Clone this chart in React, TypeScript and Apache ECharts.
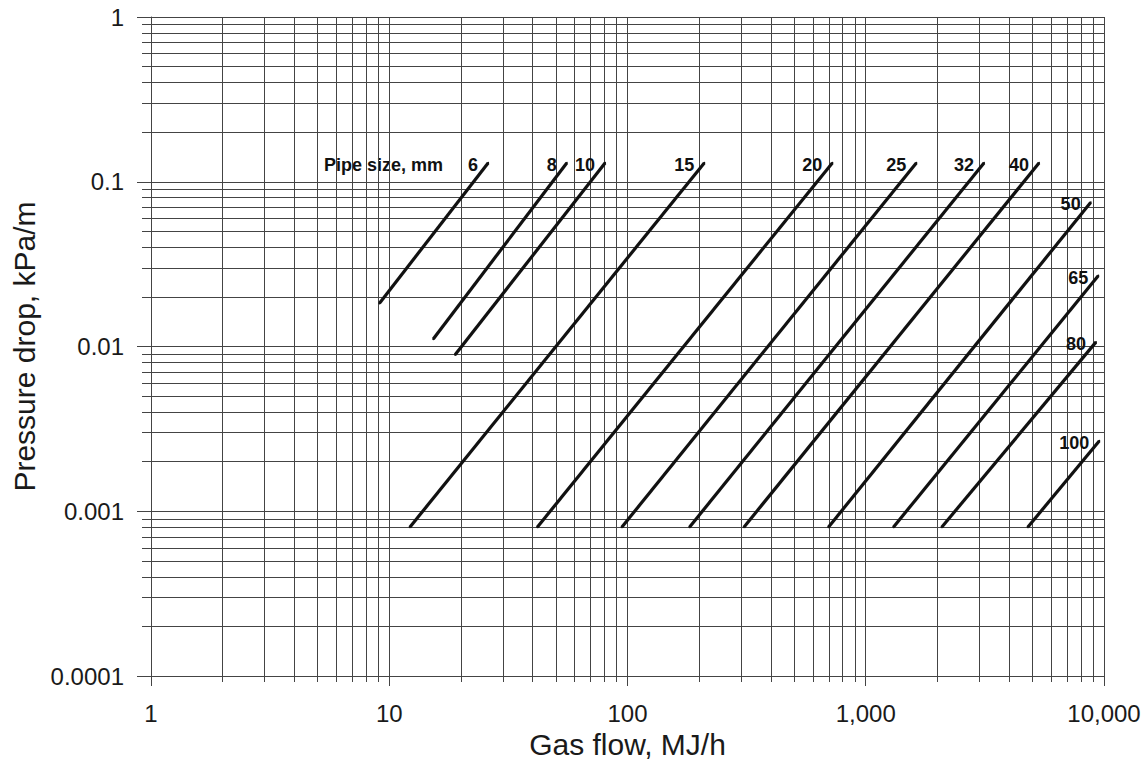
import React, { useEffect, useRef } from 'react';
import * as echarts from 'echarts';

// Pipe sizes (mm) and the end points of each pressure-drop line
const pipeSizes = ['6', '8', '10', '15', '20', '25', '32', '40', '50', '65', '80', '100'];
const flowStart = [9.1, 15.3, 18.9, 12.2, 41.8, 94.6, 182, 308, 697, 1306, 2083, 4785];
const dropStart = [0.0183, 0.0111, 0.0089, 0.0008, 0.0008, 0.0008, 0.0008, 0.0008, 0.0008, 0.0008, 0.0008, 0.0008];
const flowEnd = [26, 55.6, 80.5, 210, 724, 1630, 3135, 5335, 8790, 9460, 9250, 9550];
const dropEnd = [0.13, 0.13, 0.13, 0.13, 0.13, 0.13, 0.13, 0.13, 0.0749, 0.0269, 0.01063, 0.00267];

const xTickLabels = ['1', '10', '100', '1,000', '10,000'];
const yTickLabels = ['0.0001', '0.001', '0.01', '0.1', '1'];

const FONT = "'Liberation Sans', Arial, Helvetica, sans-serif";
const GRID = '#444444';
const INK = '#111111';

export default function App() {
  const ref = useRef<HTMLDivElement>(null);

  useEffect(() => {
    const chart = echarts.init(ref.current as HTMLDivElement, null, { renderer: 'svg' });

    const gridLine = { color: GRID, width: 1 };

    const series = pipeSizes.map((size, i) => ({
      type: 'line',
      name: size,
      silent: true,
      symbol: 'circle',
      symbolSize: 2,
      showSymbol: true,
      showAllSymbol: true,
      itemStyle: { color: INK },
      lineStyle: { color: INK, width: 3.2 },
      label: { show: false },
      data: [
        { value: [flowStart[i], dropStart[i]] },
        {
          value: [flowEnd[i], dropEnd[i]],
          label: {
            show: true,
            formatter: size,
            position: 'left',
            distance: 9,
            offset: [0, 2],
            fontFamily: FONT,
            fontWeight: 'bold',
            fontSize: 18,
            color: INK,
          },
        },
      ],
    }));

    chart.setOption({
      animation: false,
      backgroundColor: '#ffffff',
      grid: {
        left: 151,
        right: 41,
        top: 17,
        bottom: 87,
        containLabel: false,
        outerBoundsMode: 'none',
      },
      xAxis: {
        type: 'log',
        logBase: 10,
        min: 1,
        max: 10000,
        axisLine: { show: true, onZero: false, lineStyle: gridLine },
        axisTick: { show: true, length: 10, lineStyle: gridLine },
        minorTick: { show: true, splitNumber: 9, length: 6, lineStyle: gridLine },
        splitLine: { show: true, lineStyle: gridLine },
        minorSplitLine: { show: true, lineStyle: gridLine },
        axisLabel: {
          formatter: (v: number) => xTickLabels[Math.round(Math.log10(v))] ?? '',
          margin: 25,
          fontSize: 24,
          color: '#1a1a1a',
          fontFamily: FONT,
        },
        name: 'Gas flow, MJ/h',
        nameLocation: 'middle',
        nameGap: 53,
        nameTextStyle: { fontSize: 30, color: '#1a1a1a', fontFamily: FONT },
      },
      yAxis: {
        type: 'log',
        logBase: 10,
        min: 0.0001,
        max: 1,
        axisLine: { show: true, onZero: false, lineStyle: gridLine },
        axisTick: { show: true, length: 14, lineStyle: gridLine },
        minorTick: { show: true, splitNumber: 9, length: 9, lineStyle: gridLine },
        splitLine: { show: true, lineStyle: gridLine },
        minorSplitLine: { show: true, lineStyle: gridLine },
        axisLabel: {
          formatter: (v: number) => yTickLabels[Math.round(Math.log10(v)) + 4] ?? '',
          margin: 27,
          fontSize: 24,
          color: '#1a1a1a',
          fontFamily: FONT,
        },
        name: 'Pressure drop, kPa/m',
        nameLocation: 'middle',
        nameGap: 110,
        nameTextStyle: { fontSize: 30, color: '#1a1a1a', fontFamily: FONT },
      },
      graphic: [
        {
          type: 'text',
          left: 324,
          top: 156,
          silent: true,
          style: {
            text: 'Pipe size, mm',
            fontFamily: FONT,
            fontWeight: 'bold',
            fontSize: 18,
            fill: INK,
          },
        },
      ],
      series,
    });

    return () => {
      chart.dispose();
    };
  }, []);

  return (
    <div
      ref={ref}
      style={{ position: 'fixed', left: 0, top: 0, width: 1145, height: 763, background: '#ffffff' }}
    />
  );
}
